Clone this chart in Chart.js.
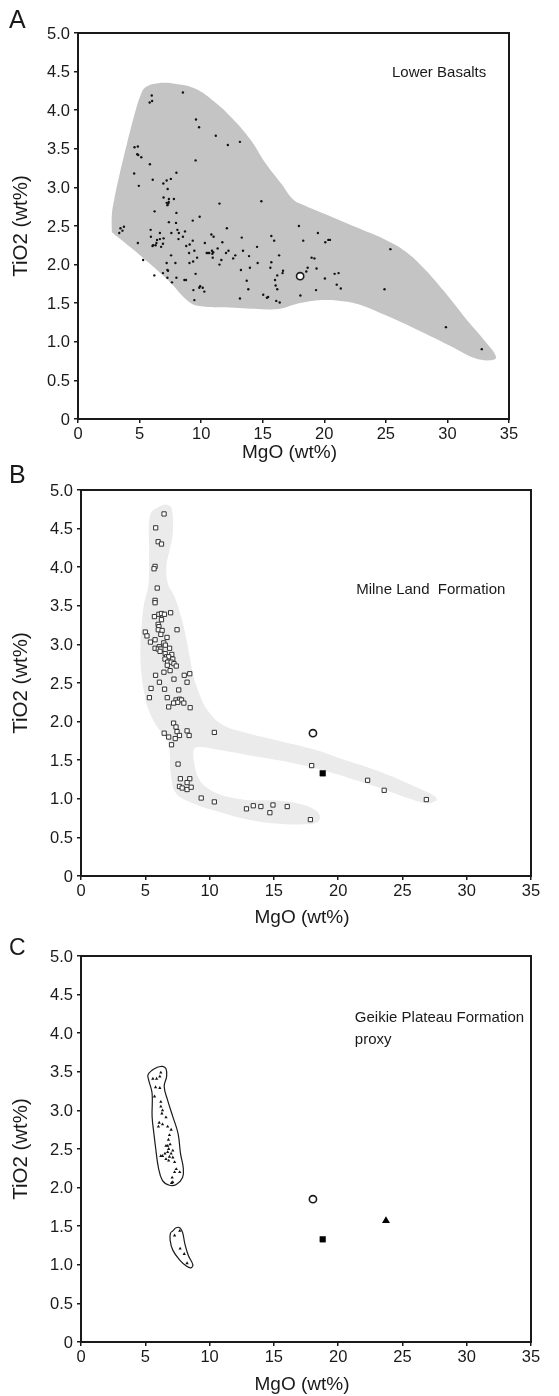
<!DOCTYPE html>
<html><head><meta charset="utf-8">
<script src="https://cdn.jsdelivr.net/npm/chart.js@4.4.1/dist/chart.umd.min.js"></script>
<style>
html,body{margin:0;padding:0;background:#fff;}
body{width:559px;height:1396px;position:relative;overflow:hidden;}
canvas{position:absolute;left:0;}
</style></head><body>
<canvas id="cA" width="559" height="465" style="top:0px"></canvas>
<canvas id="cB" width="559" height="467" style="top:465px"></canvas>
<canvas id="cC" width="559" height="464" style="top:932px"></canvas>
<script>
// ---------- tick labels ----------
const xTickLabels = ['0','5','10','15','20','25','30','35'];
const yTickLabels = ['0','0.5','1.0','1.5','2.0','2.5','3.0','3.5','4.0','4.5','5.0'];

// ---------- shared reference samples [MgO, TiO2] ----------
const openCircleSample = [[18.04,1.85]];
const filledSquareSample = [[18.8,1.33]];
const filledTriangleSample = [[23.72,1.57]];

// ---------- Panel A: Lower Basalts [MgO, TiO2] ----------
const lowerBasalts = [
[5.99,4.19],[6.02,4.12],[5.82,4.10],[8.52,4.23],[9.58,3.88],[9.83,3.78],[11.19,3.67],[12.17,3.55],[13.15,3.59],
[4.59,3.52],[4.86,3.53],[4.81,3.43],[4.89,3.42],[5.14,3.39],[9.55,3.35],[5.84,3.30],[4.56,3.18],[7.99,3.19],
[6.07,3.10],[7.20,3.09],[7.54,3.11],[6.93,3.05],[4.94,3.02],[7.28,2.98],[6.95,2.87],[7.38,2.85],[7.79,2.85],
[7.20,2.80],[7.33,2.79],[7.26,2.77],[7.37,2.81],[11.49,2.79],[14.89,2.82],[6.22,2.69],[7.99,2.67],[9.88,2.62],
[7.38,2.55],[7.96,2.54],[9.32,2.57],[3.73,2.49],[3.45,2.47],[3.35,2.41],[3.61,2.44],[5.90,2.45],[6.65,2.41],
[7.58,2.41],[8.07,2.45],[8.19,2.41],[8.69,2.43],[12.09,2.47],[10.83,2.39],[11.01,2.36],[5.92,2.36],[6.42,2.32],
[6.65,2.33],[6.95,2.34],[8.16,2.33],[8.52,2.36],[9.32,2.31],[13.30,2.35],[15.70,2.37],[15.93,2.31],[4.86,2.28],
[6.37,2.28],[6.90,2.27],[6.10,2.25],[6.05,2.24],[6.30,2.25],[6.75,2.23],[9.07,2.26],[10.30,2.28],[11.72,2.29],
[8.79,2.24],[11.34,2.21],[14.54,2.23],[9.45,2.18],[9.02,2.15],[10.45,2.15],[10.56,2.15],[10.66,2.15],[10.88,2.18],
[10.98,2.16],[10.91,2.14],[12.02,2.15],[12.22,2.18],[12.77,2.12],[13.40,2.18],[13.89,2.11],[7.56,2.12],[9.67,2.09],
[10.94,2.09],[12.60,2.08],[5.29,2.06],[7.20,2.02],[7.91,2.02],[9.05,2.02],[9.35,2.04],[11.64,2.06],[11.49,2.00],
[14.59,2.02],[13.96,1.96],[15.70,2.03],[15.62,1.96],[7.26,1.93],[7.31,1.92],[13.23,1.93],[6.90,1.89],[9.55,1.88],
[6.20,1.86],[16.18,1.86],[7.26,1.83],[7.99,1.83],[7.63,1.77],[8.64,1.80],[8.77,1.80],[13.70,1.79],[16.00,1.80],
[10.13,1.70],[9.85,1.70],[9.92,1.72],[9.37,1.67],[10.26,1.65],[13.83,1.68],[16.05,1.73],[16.18,1.68],[9.45,1.54],
[13.15,1.56],[15.04,1.61],[15.34,1.57],[15.44,1.58],[16.10,1.53],[16.38,1.51],
[17.94,2.50],[18.29,2.31],[19.48,2.41],[20.08,2.29],[20.33,2.32],[20.46,2.32],[25.37,2.20],[16.33,2.12],[18.97,2.09],
[19.20,2.08],[18.65,1.96],[19.37,1.95],[18.54,1.91],[16.65,1.92],[16.61,1.89],[20.84,1.88],[21.16,1.89],[20.05,1.82],
[21.01,1.74],[21.34,1.69],[19.33,1.67],[24.89,1.68],[18.06,1.60],[29.88,1.19],[32.79,0.905]
];
const lowerBasaltsField = [
[2.75,2.42],[2.75,2.65],[2.95,2.85],[3.35,3.15],[3.95,3.55],[4.6,3.95],[5.1,4.2],[5.5,4.3],[6.5,4.35],[8.0,4.34],
[9.5,4.28],[11.0,4.12],[12.5,3.9],[14.0,3.62],[15.2,3.32],[16.5,3.05],[17.5,2.84],[18.5,2.76],[20.0,2.66],[22.5,2.49],
[25.0,2.32],[26.6,2.17],[28.1,1.95],[29.7,1.66],[31.5,1.3],[33.2,0.98],[33.95,0.8],[33.5,0.76],[32.2,0.79],[30.2,0.95],
[27.5,1.16],[24.9,1.35],[22.7,1.49],[21.3,1.53],[20.0,1.54],[18.6,1.52],[17.5,1.48],[16.5,1.43],[15.4,1.42],[12.7,1.44],
[10.0,1.46],[9.0,1.52],[7.3,1.8],[5.2,2.1],[3.2,2.36],[2.75,2.42]
];

// ---------- Panel B: Milne Land Formation [MgO, TiO2] ----------
const milneLand = [
[6.46,4.69],[5.81,4.51],[6.00,4.33],[6.26,4.30],[5.76,4.01],[5.68,3.98],[5.93,3.73],[5.76,3.57],[5.76,3.54],[5.71,3.36],
[6.06,3.39],[6.26,3.40],[6.49,3.39],[6.97,3.41],[6.26,3.32],[6.00,3.26],[6.06,3.23],[6.01,3.19],[6.31,3.18],[7.47,3.19],
[5.00,3.16],[5.13,3.11],[6.21,3.13],[6.69,3.09],[5.76,3.06],[5.40,3.03],[6.44,3.02],[6.09,2.97],[5.76,2.95],[6.01,2.94],
[6.21,2.94],[6.56,2.99],[6.89,2.95],
[6.15,2.91],[6.55,2.88],[7.06,2.87],[6.66,2.84],[6.82,2.84],[6.53,2.81],[7.14,2.81],[6.74,2.77],[7.01,2.77],[7.23,2.75],
[7.41,2.72],[6.71,2.73],[6.93,2.66],[6.45,2.64],[5.80,2.60],[8.03,2.60],[8.46,2.62],[6.10,2.51],[7.23,2.55],[8.25,2.51],
[5.45,2.43],[6.50,2.42],[7.60,2.41],[5.32,2.31],[6.71,2.31],[7.39,2.28],[7.68,2.29],[7.82,2.28],[7.52,2.25],[7.20,2.24],
[8.00,2.24],[6.82,2.19],[8.49,2.18],[7.20,1.98],[7.39,1.93],[6.47,1.85],[7.47,1.87],[8.25,1.88],[6.82,1.80],[7.66,1.82],
[8.41,1.82],[7.33,1.78],[7.04,1.70],[10.37,1.86],[7.55,1.45],[7.73,1.26],[8.46,1.26],[8.25,1.21],[7.66,1.16],[7.87,1.14],
[8.25,1.12],[8.57,1.15],[9.35,1.01],[10.37,0.96],[12.87,0.87],[13.40,0.91],[13.99,0.90],[14.69,0.82],[14.93,0.92],[16.04,0.90],
[17.84,0.73],[17.94,1.43],[22.29,1.24],[23.58,1.11],[26.86,0.99]
];
const milneLandField = [
[27.69,0.98],[27.02,0.94],[25.41,1.01],[23.26,1.14],[21.38,1.24],[19.23,1.35],[16.55,1.46],[13.86,1.54],[10.9,1.63],[9.03,1.67],
[8.76,1.63],[8.81,1.46],[9.16,1.26],[9.83,1.14],[10.9,1.05],[12.25,1.0],[13.05,0.98],[14.67,0.98],[16.28,0.96],[17.35,0.92],
[18.15,0.86],[18.56,0.79],[18.42,0.70],[17.35,0.67],[15.2,0.68],[13.05,0.73],[11.17,0.81],[8.76,0.94],[7.41,1.07],[7.01,1.29],
[6.88,1.63],[6.74,1.76],[5.94,1.93],[5.26,2.15],[4.94,2.36],[4.73,2.58],[4.62,2.85],[4.67,3.14],[4.87,3.49],[5.25,3.79],
[5.3,4.22],[5.38,4.68],[6.04,4.78],[6.67,4.81],[7.05,4.76],[7.14,4.44],[6.89,4.22],[6.64,4.01],[6.76,3.79],[7.27,3.62],
[7.78,3.36],[8.16,3.10],[8.5,2.8],[8.76,2.58],[9.3,2.32],[9.83,2.15],[10.9,1.97],[12.52,1.87],[15.2,1.76],[17.89,1.65],
[20.57,1.5],[23.26,1.35],[25.95,1.16],[27.56,1.03],[27.69,0.98]
];

// ---------- Panel C: Geikie Plateau Formation proxy [MgO, TiO2] ----------
const geikieProxy = [
[5.59,3.41],[5.88,3.41],[6.21,3.49],[6.13,3.44],[5.80,3.30],[6.13,3.29],[5.72,3.18],[6.21,3.11],[6.21,3.05],[6.34,3.00],
[6.29,2.96],[6.61,2.91],[6.08,2.84],[6.02,2.79],[6.34,2.82],[6.74,2.79],[7.01,2.75],[6.88,2.68],[6.80,2.62],[6.61,2.54],
[6.34,2.41],[6.53,2.44],[6.74,2.46],[6.88,2.40],[7.01,2.44],[7.14,2.39],[6.61,2.37],[6.82,2.35],[7.14,2.48],[6.74,2.54],
[7.28,2.33],[7.41,2.24],[7.28,2.20],[7.68,2.20],[7.09,2.13],[7.14,2.07],[7.04,2.06],[6.21,2.41],[6.82,2.50],[6.93,2.56],
[7.28,1.38],[7.68,1.44],[7.71,1.21],[8.03,1.14],[8.25,1.02]
];
const geikieFieldUpper = [
[5.94,3.56],[6.34,3.57],[6.61,3.54],[6.66,3.44],[6.47,3.31],[6.74,3.13],[7.14,2.92],[7.55,2.70],[7.74,2.44],[7.95,2.26],
[7.90,2.13],[7.41,2.04],[6.88,2.03],[6.34,2.09],[6.02,2.26],[5.80,2.52],[5.67,2.70],[5.53,2.92],[5.53,3.22],[5.27,3.39],
[5.21,3.46],[5.53,3.52],[5.94,3.56]
];
const geikieFieldLower = [
[7.14,1.44],[7.40,1.48],[7.68,1.48],[7.90,1.42],[8.08,1.27],[8.35,1.12],[8.70,1.00],[8.54,0.96],[8.22,0.98],[7.68,1.06],
[7.14,1.19],[6.93,1.32],[6.96,1.41],[7.14,1.44]
];

// ---------- rendering ----------
const FONT = '"Liberation Sans", Arial, Helvetica, sans-serif';
const INK = '#1a1a1a';
const pts = a => a.map(p => ({x: p[0], y: p[1]}));

function drawText(ctx, s, x, y, size, align, base) {
  ctx.save();
  ctx.font = size + 'px ' + FONT;
  ctx.textAlign = align;
  ctx.textBaseline = base;
  ctx.fillText(s, x, y);
  ctx.restore();
}

function decor(meta) {
  return {
    id: 'decor' + meta.letter,
    afterDraw(chart) {
      const ctx = chart.ctx, a = chart.chartArea, xs = chart.scales.x, ys = chart.scales.y;
      ctx.save();
      ctx.strokeStyle = INK; ctx.lineWidth = 2;
      ctx.strokeRect(a.left, a.top, a.right - a.left, a.bottom - a.top);
      ctx.fillStyle = INK;
      xs.ticks.forEach((t, i) => drawText(ctx, xTickLabels[i], xs.getPixelForValue(t.value), a.bottom + 7, 16.5, 'center', 'top'));
      ys.ticks.forEach((t, i) => drawText(ctx, yTickLabels[i], a.left - 8, ys.getPixelForValue(t.value) + 1, 16.5, 'right', 'middle'));
      drawText(ctx, 'MgO (wt%)', (a.left + a.right) / 2 - 4, meta.xTitleY, 19, 'center', 'middle');
      ctx.save();
      ctx.translate(21, (a.top + a.bottom) / 2);
      ctx.rotate(-Math.PI / 2);
      drawText(ctx, 'TiO2 (wt%)', 0, 0, 20.5, 'center', 'middle');
      ctx.restore();
      drawText(ctx, meta.letter, 9, meta.letterY, meta.letterSize, 'left', 'alphabetic');
      meta.notes.forEach(n => drawText(ctx, n.text, xs.getPixelForValue(n.x), ys.getPixelForValue(n.y), 15, 'left', 'middle'));
      ctx.restore();
    }
  };
}

function makeChart(id, box, datasets, meta) {
  const cv = document.getElementById(id);
  const W = cv.width, H = cv.height;
  new Chart(cv, {
    type: 'scatter',
    data: {datasets},
    options: {
      responsive: false, animation: false, events: [],
      layout: {padding: {left: 0, top: box.top, right: W - box.right, bottom: 0}},
      plugins: {legend: {display: false}, tooltip: {enabled: false}},
      scales: {
        x: {type: 'linear', min: 0, max: 35, ticks: {stepSize: 5, display: false},
            grid: {display: true, drawOnChartArea: false, drawTicks: true, tickLength: 4, color: INK, lineWidth: 1.5},
            border: {display: false},
            afterFit: s => { s.height = H - box.bottom; }},
        y: {type: 'linear', min: 0, max: 5, ticks: {stepSize: 0.5, display: false},
            grid: {display: true, drawOnChartArea: false, drawTicks: true, tickLength: 4, color: INK, lineWidth: 1.5},
            border: {display: false},
            afterFit: s => { s.width = box.left; }}
      }
    },
    plugins: [decor(meta)]
  });
}

function field(data, fillColor) {
  return {data: pts(data), showLine: true, fill: 'shape', tension: 0.4, pointRadius: 0,
          borderWidth: 0, borderColor: 'rgba(0,0,0,0)', backgroundColor: fillColor, order: 10};
}
function outline(data) {
  return {data: pts(data), showLine: true, fill: false, tension: 0.4, pointRadius: 0,
          borderWidth: 1.2, borderColor: INK, backgroundColor: 'rgba(0,0,0,0)', order: 10};
}
const openCircle = () => ({data: pts(openCircleSample), pointStyle: 'circle', pointRadius: 3.6, borderWidth: 1.6,
  borderColor: INK, backgroundColor: '#fff', order: 0});
const filledSquare = () => ({data: pts(filledSquareSample), pointStyle: 'rect', pointRadius: 4, borderWidth: 0.5,
  borderColor: '#000', backgroundColor: '#000', order: 0});

makeChart('cA', {left: 78, right: 509, top: 33, bottom: 419}, [
  field(lowerBasaltsField, '#c4c4c4'),
  {data: pts(lowerBasalts), pointStyle: 'circle', pointRadius: 1.2, borderWidth: 0, backgroundColor: '#111', order: 1},
  openCircle()
], {letter: 'A', letterY: 28, letterSize: 25, xTitleY: 453, notes: [{text: 'Lower Basalts', x: 25.5, y: 4.49}]});

makeChart('cB', {left: 81, right: 531, top: 25, bottom: 411}, [
  field(milneLandField, '#ebebeb'),
  {data: pts(milneLand), pointStyle: 'rect', pointRadius: 3, borderWidth: 1, borderColor: '#333', backgroundColor: '#fff', order: 1},
  openCircle(),
  filledSquare()
], {letter: 'B', letterY: 18, letterSize: 25, xTitleY: 453, notes: [{text: 'Milne Land  Formation', x: 21.4, y: 3.71}]});

makeChart('cC', {left: 81, right: 531, top: 24, bottom: 410}, [
  outline(geikieFieldUpper),
  outline(geikieFieldLower),
  {data: pts(geikieProxy), pointStyle: 'triangle', pointRadius: 1.9, borderWidth: 0, backgroundColor: '#111', order: 1},
  openCircle(),
  filledSquare(),
  {data: pts(filledTriangleSample), pointStyle: 'triangle', pointRadius: 4.6, borderWidth: 0, backgroundColor: '#000', order: 0}
], {letter: 'C', letterY: 23, letterSize: 23, xTitleY: 453, notes: [
  {text: 'Geikie Plateau Formation', x: 21.3, y: 4.20},
  {text: 'proxy', x: 21.3, y: 3.92}
]});
</script>
</body></html>
